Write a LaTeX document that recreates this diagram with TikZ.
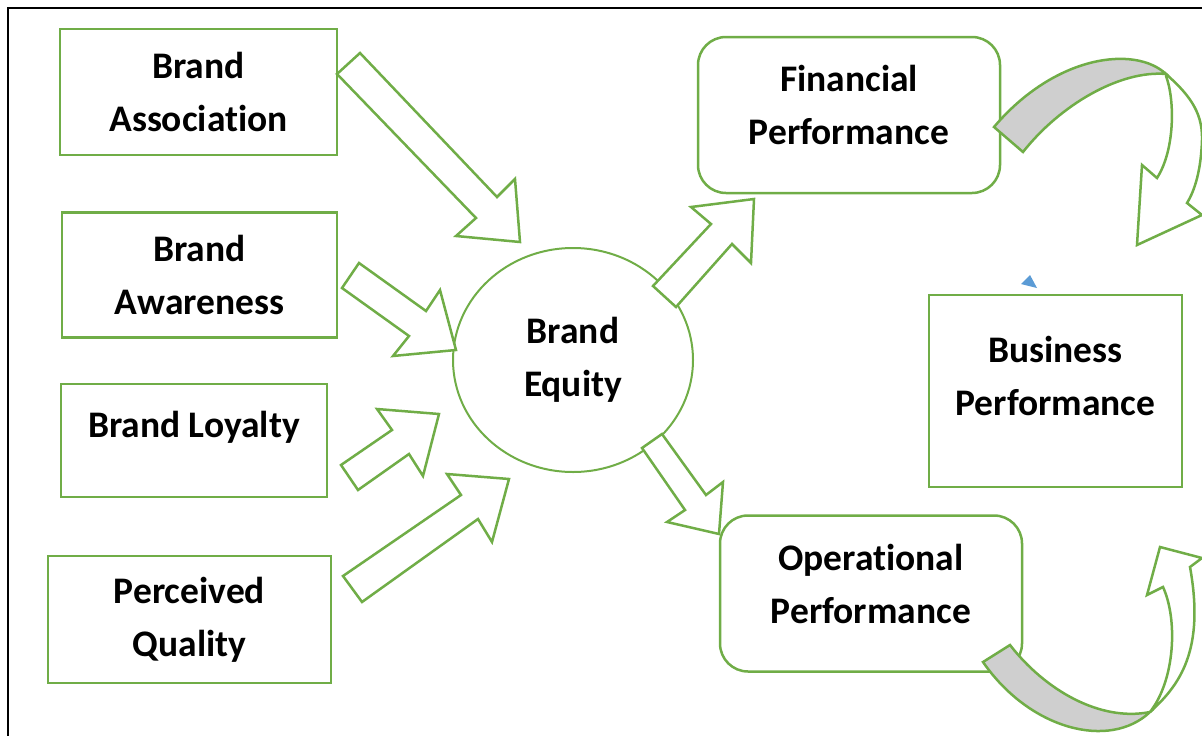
\documentclass[tikz,border=0pt]{standalone}
\usepackage{fontspec}
\setmainfont[Ligatures=NoCommon]{Carlito}
\usetikzlibrary{shapes.geometric, positioning}
\definecolor{leafgreen}{HTML}{70AD47}
\definecolor{foldgray}{HTML}{CFCFCF}
\definecolor{markblue}{HTML}{5B9BD5}

\begin{document}
\begin{tikzpicture}[x=1pt, y=-1pt,
    every node/.style={font=\bfseries\fontsize{37.5}{53}\selectfont},
    factor/.style={rectangle, draw=leafgreen, line width=2.5pt, minimum width=275, minimum height=125, inner sep=0pt},
    perf/.style={rectangle, draw=leafgreen, line width=2.5pt, rounded corners=28pt, minimum width=302, minimum height=156, inner sep=0pt},
    lbl/.style={align=center, inner sep=0pt},
    blockarr/.style={draw=leafgreen, line width=2.5pt, fill=white, line join=miter},
    fold/.style={draw=leafgreen, line width=2.5pt, fill=foldgray}
]
\useasboundingbox (0,0) rectangle (1202,736);
% frame
\draw[line width=2.5pt] (8,736) -- (8,8) -- (1202,8);

% the four brand factors
\node[factor, minimum width=277, minimum height=126, align=center] (assoc) at (198.5,92) {Brand\\Association};
\node[factor, align=center] (aware) at (199.5,275) {Brand\\Awareness};
\node[factor, minimum width=266, minimum height=113] (loyal) at (194,440.5) {};
\node[lbl] (loyaltxt) at ([yshift=13pt]loyal.center) {Brand Loyalty};
\node[factor, minimum width=283, minimum height=127, align=center] (quality) at (189.5,619.5) {Perceived\\Quality};

% brand equity
\node[ellipse, draw=leafgreen, line width=2pt, minimum width=240, minimum height=224, align=center] (equity) at (573,360) {Brand\\Equity};

% performance boxes
\node[perf] (fin) at (849,115) {};
\node[lbl] (fintxt) at ([yshift=10pt]fin.center) {Financial\\Performance};
\node[perf] (oper) at (871,593.5) {};
\node[lbl] (opertxt) at ([yshift=10pt]oper.center) {Operational\\Performance};
\node[rectangle, draw=leafgreen, line width=2.5pt, minimum width=253, minimum height=192] (busi) at (1055.5,391) {};
\node[lbl] (busitxt) at ([yshift=15pt]busi.center) {Business\\Performance};

% block arrows into brand equity
\draw[blockarr] (360,53) -- (497,197) -- (515,179) -- (520,242) -- (456,236) -- (476,218) -- (337,74) -- cycle;
\draw[blockarr] (359,263) -- (426,311) -- (440,290) -- (456,350) -- (393,356) -- (409,336) -- (342,288) -- cycle;
\draw[blockarr] (341,465) -- (392,430) -- (377,409) -- (439,414) -- (423,476) -- (409,454) -- (358,490) -- cycle;
\draw[blockarr] (343,576) -- (461,495) -- (447,474) -- (509,479) -- (492,542) -- (478,519) -- (362,602) -- cycle;

% block arrows out of brand equity
\draw[blockarr] (653,286) -- (711,224) -- (691,207) -- (754,199) -- (751,263) -- (732,244) -- (676,307) -- cycle;
\draw[blockarr] (662,434) -- (706,495) -- (723,482) -- (719,534) -- (667,522) -- (685,510) -- (642,448) -- cycle;

% curved arrow, financial side
\draw[fold] (994,127) .. controls (1055,55) and (1135,45) .. (1166,74) .. controls (1120,70) and (1060,105) .. (1023,152) -- cycle;
\draw[blockarr] (1166,74) .. controls (1186,92) and (1203,110) .. (1202,140) .. controls (1201,170) and (1195,190) .. (1187,203) -- (1202,215) -- (1137,245) -- (1142,165) -- (1157,178) .. controls (1175,150) and (1175,100) .. (1166,76) -- cycle;

% curved arrow, operational side
\draw[fold] (983,662) .. controls (1030,730) and (1110,750) .. (1150,712) .. controls (1100,722) and (1045,690) .. (1010,645) -- cycle;
\draw[blockarr] (1150,712) .. controls (1180,685) and (1205,650) .. (1190,567) -- (1202,558) -- (1160,547) -- (1147,595) -- (1163,587) .. controls (1178,620) and (1175,680) .. (1150,712) -- cycle;

% small marker
\fill[markblue] (1030,275) -- (1021,284) -- (1037,288) -- cycle;
\end{tikzpicture}
\end{document}
